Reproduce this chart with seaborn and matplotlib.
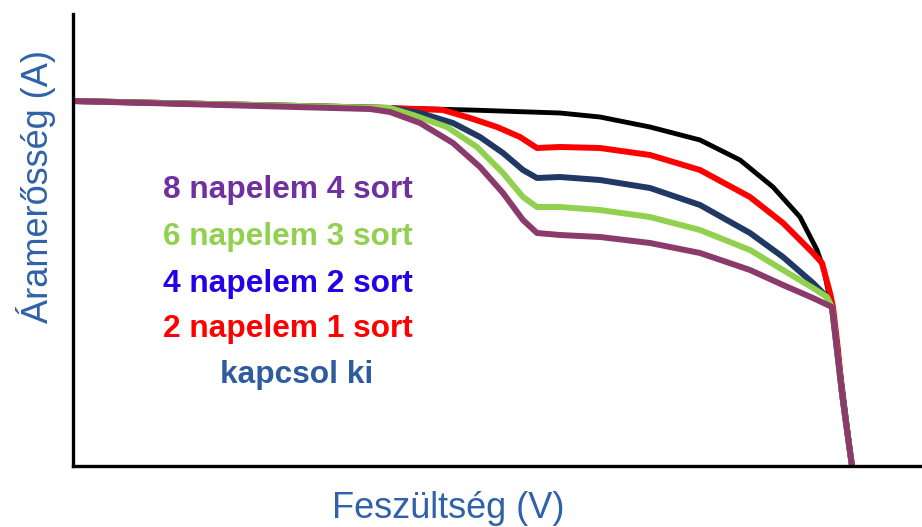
import matplotlib
matplotlib.use("Agg")
import matplotlib.pyplot as plt
import seaborn as sns
import pandas as pd

# Data (arbitrary voltage / current units)
black_v = [0, 157, 317, 397, 487, 527, 577, 627, 667, 700, 727, 744, 751, 758, 764, 770, 775, 779]
black_i = [365, 361, 358, 356, 353, 349, 339, 326, 306, 279, 249, 216, 196, 161, 121, 74, 34, 0]

red_v = [0, 317, 370, 397, 424, 447, 464, 487, 527, 577, 627, 677, 710, 740, 749, 757, 760, 765, 769, 774, 779]
red_i = [365, 358, 356, 348, 339, 329, 318, 319, 318, 311, 296, 269, 243, 213, 203, 173, 159, 116, 73, 36, 0]

navy_v = [0, 317, 347, 380, 407, 430, 450, 464, 487, 527, 577, 627, 677, 710, 740, 754, 759, 764, 769, 774, 779]
navy_i = [365, 358, 353, 343, 329, 313, 296, 288, 289, 286, 278, 261, 233, 209, 183, 169, 159, 116, 73, 36, 0]

green_v = [0, 317, 340, 374, 404, 430, 450, 464, 487, 527, 577, 627, 677, 710, 740, 754, 759, 764, 769, 774, 779]
green_i = [365, 358, 351, 339, 319, 293, 269, 259, 259, 256, 249, 236, 216, 196, 178, 169, 159, 116, 73, 36, 0]

purple_v = [0, 297, 317, 347, 380, 407, 430, 450, 464, 487, 527, 577, 627, 677, 710, 740, 759, 764, 769, 774, 779]
purple_i = [365, 357, 354, 343, 323, 299, 273, 246, 233, 231, 229, 223, 213, 196, 181, 168, 159, 116, 73, 36, 0]

labels = ["8 napelem 4 sort", "6 napelem 3 sort", "4 napelem 2 sort", "2 napelem 1 sort", "kapcsol ki"]
label_colors = ["#7030a0", "#92d050", "#2400e8", "#ff0000", "#2f5c9f"]

sns.set_theme(style="white")
plt.rcParams['font.family'] = ['Liberation Sans', 'DejaVu Sans']

fig = plt.figure(figsize=(9.22, 5.27), dpi=100)
W, H = 922, 527
ax = fig.add_axes([73 / W, (H - 466) / H, (W - 73) / W, (466 - 14) / H])

series = [
    (black_v, black_i, "black", 3.5),
    (red_v, red_i, "#ff0000", 4.3),
    (navy_v, navy_i, "#1f3864", 4.3),
    (green_v, green_i, "#92d050", 4.3),
    (purple_v, purple_i, "#8b3a6c", 4.3),
]
for i, (v, c, col, lw) in enumerate(series):
    df = pd.DataFrame({"V": v, "I": c})
    sns.lineplot(data=df, x="V", y="I", sort=False, estimator=None, color=col,
                 linewidth=lw, ax=ax, zorder=3 + i, solid_joinstyle="round",
                 solid_capstyle="butt")

ax.set_xlim(0, 849)
ax.set_ylim(0, 452)
ax.set_xticks([])
ax.set_yticks([])
for s in ["top", "right"]:
    ax.spines[s].set_visible(False)
for s in ["left", "bottom"]:
    ax.spines[s].set_visible(True)
    ax.spines[s].set_color("black")
    ax.spines[s].set_linewidth(2.4)
    ax.spines[s].set_zorder(10)

ax.set_xlabel("Feszültség (V)", fontsize=26, color="#2f62a8")
ax.set_ylabel("Áramerősség (A)", fontsize=26, color="#2f62a8")
ax.xaxis.set_label_coords((448 - 73) / 849, (466 - 518) / 452)
ax.xaxis.label.set_ha("center")
ax.xaxis.label.set_va("baseline")
ax.yaxis.set_label_coords((48 - 73) / 849, (466 - 186.5) / 452)
ax.yaxis.label.set_rotation_mode("anchor")
ax.yaxis.label.set_ha("center")
ax.yaxis.label.set_va("baseline")

label_x = [215, 215, 215, 215, 224]
label_y = [268, 221, 174, 129, 83]
for t, c, x, y in zip(labels, label_colors, label_x, label_y):
    ax.text(x, y, t, color=c, fontsize=22.8, fontweight="bold", ha="center",
            va="baseline", zorder=20)

fig.savefig("out.png", dpi=100)
